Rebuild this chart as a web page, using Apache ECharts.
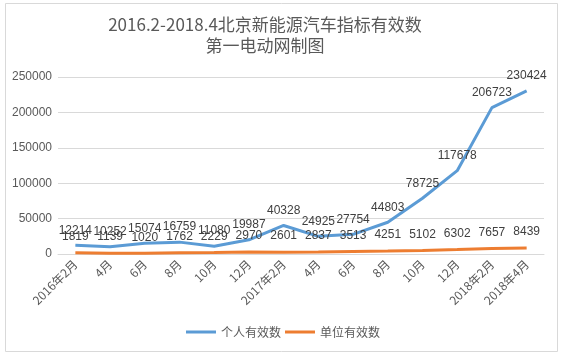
<!DOCTYPE html>
<html><head><meta charset="utf-8">
<script src="https://cdn.jsdelivr.net/npm/echarts@6/dist/echarts.min.js"></script>
<style>html,body{margin:0;padding:0;background:#fff}#c{width:566px;height:357px}</style>
</head><body><div id="c"></div>
<script>
const categories = ['2016年2月','4月','6月','8月','10月','12月','2017年2月','4月','6月','8月','10月','12月','2018年2月','2018年4月'];
const personal = [12214,10252,15074,16759,11080,19987,40328,24925,27754,44803,78725,117678,206723,230424];
const unit = [1819,1139,1020,1762,2229,2970,2601,2837,3513,4251,5102,6302,7657,8439];
const seriesNames = ['个人有效数','单位有效数'];
const yTicks = [0,50000,100000,150000,200000,250000];
const titleLines = ['2016.2-2018.4北京新能源汽车指标有效数','第一电动网制图'];

const FONT = '"Noto Sans CJK SC", "Liberation Sans", sans-serif';
const NUMFONT = '"Liberation Sans", sans-serif';
const chart = echarts.init(document.getElementById('c'), null, {renderer:'canvas'});
chart.setOption({
  backgroundColor:'#fff',
  animation:false,
  graphic:[{type:'rect',shape:{x:5.5,y:3.5,width:552,height:348},style:{fill:'none',stroke:'#d9d9d9',lineWidth:1},silent:true}],
  title:{text:titleLines.join('\n'),left:260,textAlign:'center',top:9,textStyle:{fontFamily:FONT,fontWeight:'normal',fontSize:17,color:'#595959',lineHeight:21}},
  legend:{bottom:14,left:'center',itemWidth:30,itemHeight:3,itemGap:4,icon:'rect',
    textStyle:{fontFamily:FONT,fontSize:12,color:'#595959'},data:seriesNames},
  grid:{left:58,right:22,top:77,bottom:103,containLabel:false},
  xAxis:{type:'category',data:categories,boundaryGap:true,
    axisLine:{lineStyle:{color:'#d9d9d9'}},axisTick:{show:false},
    axisLabel:{rotate:45,color:'#595959',fontFamily:FONT,fontSize:12,margin:8,interval:0}},
  yAxis:{type:'value',min:yTicks[0],max:yTicks[yTicks.length-1],interval:50000,
    axisLine:{show:false},axisTick:{show:false},
    splitLine:{lineStyle:{color:'#d9d9d9'}},
    axisLabel:{color:'#595959',fontFamily:NUMFONT,fontSize:12,margin:6,formatter:v=>String(v)}},
  series:[
    {name:seriesNames[0],type:'line',data:personal,symbol:'circle',symbolSize:0.1,showSymbol:true,
      lineStyle:{width:3,color:'#5B9BD5'},itemStyle:{color:'#5B9BD5'},
      label:{show:true,position:'top',distance:9,color:'#404040',fontFamily:NUMFONT,fontSize:12}},
    {name:seriesNames[1],type:'line',data:unit,symbol:'circle',symbolSize:0.1,showSymbol:true,
      lineStyle:{width:3,color:'#ED7D31'},itemStyle:{color:'#ED7D31'},
      label:{show:true,position:'top',distance:10,color:'#404040',fontFamily:NUMFONT,fontSize:12}}
  ]
});
</script></body></html>
